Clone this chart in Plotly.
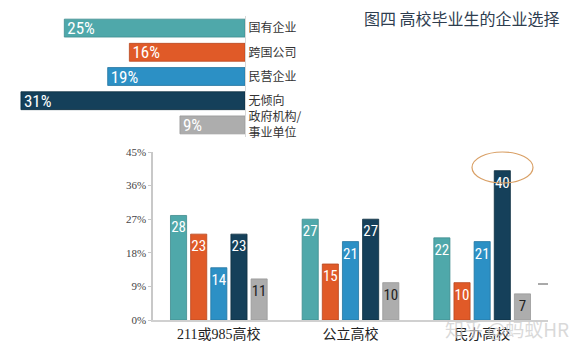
import plotly.graph_objects as go

W, H = 578, 354

# ---- data ----
top_categories = ["国有企业", "跨国公司", "民营企业", "无倾向", "政府机构/<br>事业单位"]
top_values = [25, 16, 19, 31, 9]

school_types = ["211或985高校", "公立高校", "民办高校"]
series_names = ["国有企业", "跨国公司", "民营企业", "无倾向", "政府机构/事业单位"]
series_values = [
    [28, 27, 22],
    [23, 15, 10],
    [14, 21, 21],
    [23, 27, 40],
    [11, 10, 7],
]
y_ticks = [0, 9, 18, 27, 36, 45]
y_ticktext = ["0%", "9%", "18%", "27%", "36%", "45%"]

colors = ["#4FA8AA", "#E05A28", "#2C90C5", "#15405A", "#ADADAD"]
outlines = ["#3F8C8E", "#B84820", "#2475A0", "#0E2E40", "#999999"]
label_colors = ["white", "white", "white", "white", "#222222"]

def px_x(p):
    return p / W

def px_y(p):
    return 1 - p / H

num_font = "Liberation Sans Narrow, Roboto Condensed, Arial Narrow, sans-serif"
cjk_font = "Noto Sans CJK SC, sans-serif"
serif_font = "Liberation Serif, Noto Sans CJK SC, serif"

fig = go.Figure()

# ---- top horizontal bars ----
fig.add_trace(go.Bar(
    x=top_values, y=top_categories, orientation="h",
    xaxis="x2", yaxis="y2", width=0.74,
    marker=dict(color=colors, line=dict(color=outlines, width=0.8)),
    text=[f"{v}%" for v in top_values],
    textposition="inside", insidetextanchor="end", textangle=0,
    constraintext="none",
    textfont=dict(family=num_font, size=17, color="white"),
    showlegend=False, hoverinfo="skip",
))

# ---- bottom grouped bars ----
for i, name in enumerate(series_names):
    fig.add_trace(go.Bar(
        x=school_types, y=series_values[i], name=name,
        marker=dict(color=colors[i], line=dict(color=outlines[i], width=0.8)),
        text=[str(v) for v in series_values[i]],
        textposition="inside", insidetextanchor="end", textangle=0,
        constraintext="none",
        textfont=dict(family=num_font, size=15, color=label_colors[i]),
        showlegend=False,
    ))

fig.update_layout(
    template="none",
    width=W, height=H,
    margin=dict(l=0, r=0, t=0, b=0, pad=0),
    paper_bgcolor="white", plot_bgcolor="rgba(0,0,0,0)",
    barmode="group", bargap=0.235, bargroupgap=0.2,
    showlegend=False,
    xaxis=dict(
        domain=[px_x(153), px_x(548)],
        anchor="y", automargin=False,
        showline=True, linecolor="#D0D0D0", linewidth=1.5,
        ticks="", showgrid=False, zeroline=False,
        tickfont=dict(family=serif_font, size=14, color="#222222"),
    ),
    yaxis=dict(
        domain=[px_y(320), px_y(152)],
        anchor="x", automargin=False,
        range=[0, 45], tickmode="array", tickvals=y_ticks, ticktext=y_ticktext,
        showline=True, linecolor="#C8C8C8", linewidth=1.5,
        ticks="outside", ticklen=3, tickcolor="#C8C8C8",
        showgrid=False, zeroline=False,
        tickfont=dict(family=serif_font, size=11, color="#444444"),
    ),
    xaxis2=dict(
        domain=[0, px_x(245)],
        anchor="y2", automargin=False,
        range=[33.9, 0],
        visible=False,
    ),
    yaxis2=dict(
        domain=[px_y(137), px_y(16)],
        anchor="x2", automargin=False,
        side="right",
        autorange="reversed",
        showline=True, linecolor="#D8D8D8", linewidth=1,
        ticks="", showgrid=False, zeroline=False,
        tickfont=dict(family=cjk_font, size=12, color="#333333"),
    ),
)

fig.add_annotation(
    x=px_x(462), y=px_y(18), xref="paper", yref="paper",
    xanchor="center", yanchor="middle",
    text="图四 高校毕业生的企业选择", showarrow=False,
    font=dict(family=cjk_font, size=16, color="#2E3D4F"),
)
fig.add_annotation(
    x=px_x(507), y=px_y(328), xref="paper", yref="paper",
    xanchor="center", yanchor="middle",
    text="知乎 @蚂蚁HR", showarrow=False,
    font=dict(family=cjk_font, size=19, color="rgba(205,205,205,0.75)"),
)
fig.add_shape(
    type="circle", xref="paper", yref="paper",
    x0=px_x(472), x1=px_x(533), y0=px_y(183), y1=px_y(152),
    line=dict(color="#D9A066", width=1.2),
)
fig.add_shape(
    type="line", xref="paper", yref="paper",
    x0=px_x(538), x1=px_x(548), y0=px_y(284), y1=px_y(284),
    line=dict(color="#555555", width=1),
)

fig.write_html("out.html")
